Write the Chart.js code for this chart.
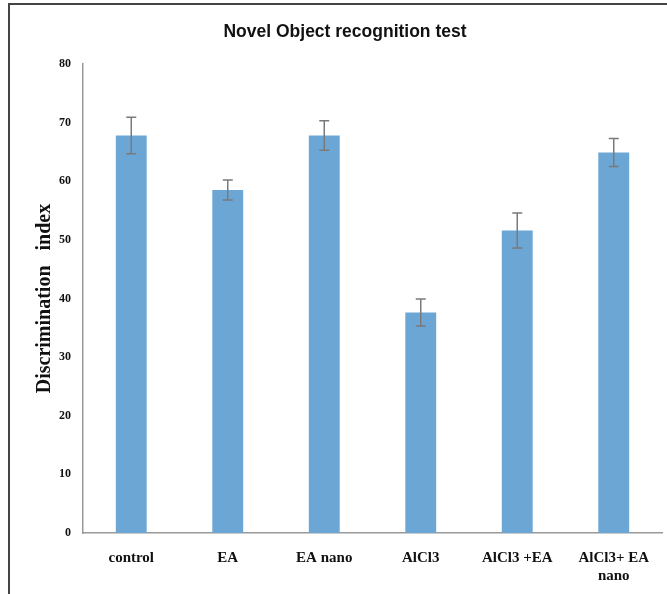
<!DOCTYPE html>
<html>
<head>
<meta charset="utf-8">
<script src="https://cdn.jsdelivr.net/npm/chart.js@4.4.0/dist/chart.umd.min.js"></script>
<style>
  body { margin: 0; background: #fff; }
  #frame { position: absolute; left: 8px; top: 3px; width: 700px; height: 700px; border: 2px solid #444; }
  #wrap { position: absolute; left: 0; top: 0; width: 667px; height: 594px; }
</style>
</head>
<body>
<div id="frame"></div>
<div id="wrap"><canvas id="show_chart" width="667" height="594"></canvas></div>
<script>
// data
const groups = ['control', 'EA', 'EA nano', 'AlCl3', 'AlCl3 +EA', ['AlCl3+ EA', 'nano']]
const means = [67.8, 58.5, 67.8, 37.6, 51.6, 64.9]
const errors = [3.1, 1.7, 2.5, 2.3, 3.0, 2.4]
const chartTitle = 'Novel Object recognition test'

// draws the error bars on top of each bar
const errorBars = {
    id: 'errorBars',
    afterDatasetsDraw(chart) {
        const ctx = chart.ctx
        const x = chart.scales.x
        const y = chart.scales.y
        ctx.save()
        ctx.strokeStyle = '#7a7a7a'
        ctx.lineWidth = 1.5
        means.forEach((m, i) => {
            const cx = x.getPixelForValue(i)
            const top = y.getPixelForValue(m + errors[i])
            const bot = y.getPixelForValue(m - errors[i])
            ctx.beginPath()
            ctx.moveTo(cx, top); ctx.lineTo(cx, bot)
            ctx.moveTo(cx - 5, top); ctx.lineTo(cx + 5, top)
            ctx.moveTo(cx - 5, bot); ctx.lineTo(cx + 5, bot)
            ctx.stroke()
        })
        ctx.restore()
    }
}

// title sits a little right of the canvas centre, like the original
const topTitle = {
    id: 'topTitle',
    afterDraw(chart) {
        const ctx = chart.ctx
        ctx.save()
        ctx.font = 'bold 17.5px "Liberation Sans"'
        ctx.fillStyle = '#111'
        ctx.textAlign = 'center'
        ctx.textBaseline = 'middle'
        ctx.fillText(chartTitle, 345, 32)
        ctx.restore()
    }
}

const ctx = document.querySelector('#show_chart').getContext('2d')

new Chart(ctx, {
    type: 'bar',
    data: {
        labels: groups,
        datasets: [
            {
                data: means,
                backgroundColor: '#6ba6d5',
                borderWidth: 0,
                barPercentage: 0.32,
                categoryPercentage: 1
            }
        ]
    },
    options: {
        responsive: false,
        animation: false,
        layout: { padding: { left: 0, right: 5, top: 64, bottom: 0 } },
        plugins: {
            legend: { display: false },
            tooltip: { enabled: false },
            title: { display: false }
        },
        scales: {
            x: {
                grid: { display: false, drawTicks: false },
                border: { color: '#999', width: 1.5 },
                ticks: {
                    color: '#111',
                    maxRotation: 0,
                    autoSkip: false,
                    padding: 16,
                    font: { family: 'Liberation Serif', size: 15, weight: 'bold' }
                },
                afterFit(scale) { scale.height = 61 }
            },
            y: {
                min: 0,
                max: 80,
                grid: { display: false, drawTicks: false },
                border: { color: '#999', width: 1.5 },
                ticks: {
                    stepSize: 10,
                    color: '#111',
                    padding: 12,
                    font: { family: 'Liberation Serif', size: 12, weight: 'bold' }
                },
                title: {
                    display: true,
                    text: 'Discrimination   index',
                    color: '#111',
                    padding: { top: 33, bottom: 0 },
                    font: { family: 'Liberation Serif', size: 20, weight: 'bold' }
                },
                afterFit(scale) { scale.width = 83 }
            }
        }
    },
    plugins: [errorBars, topTitle]
})
</script>
</body>
</html>
